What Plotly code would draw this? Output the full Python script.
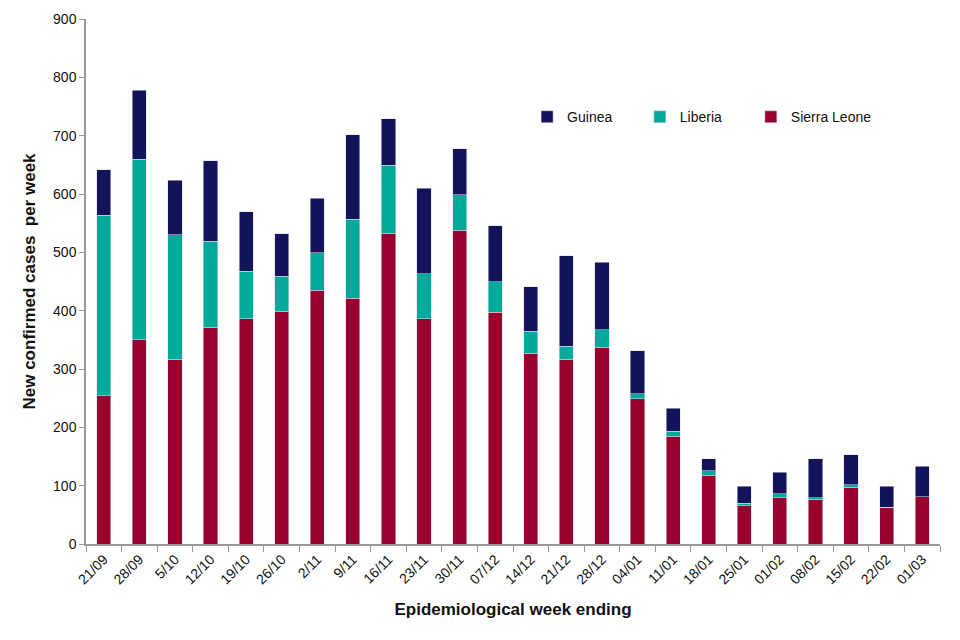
import plotly.graph_objects as go

weeks = ["21/09", "28/09", "5/10", "12/10", "19/10", "26/10", "2/11", "9/11", "16/11",
         "23/11", "30/11", "07/12", "14/12", "21/12", "28/12", "04/01", "11/01", "18/01",
         "25/01", "01/02", "08/02", "15/02", "22/02", "01/03"]
sierra_leone = [254, 350, 317, 372, 386, 399, 435, 421, 533, 386, 538, 397, 327, 317, 337,
                249, 185, 118, 66, 79, 77, 97, 63, 81]
liberia = [310, 310, 213, 147, 82, 60, 64, 136, 116, 77, 61, 53, 38, 22, 30,
           9, 8, 8, 4, 7, 2, 5, 0, 0]
guinea = [78, 118, 94, 138, 102, 73, 94, 145, 80, 147, 79, 96, 76, 155, 116,
          73, 40, 20, 29, 37, 67, 51, 36, 52]

font = "Liberation Sans, Arial, sans-serif"
fig = go.Figure()
series = [("Sierra Leone", sierra_leone, "#98002e", "legend3"),
          ("Liberia", liberia, "#00aa9a", "legend2"),
          ("Guinea", guinea, "#13135a", "legend")]
for name, vals, col, lg in series:
    fig.add_trace(go.Bar(x=weeks, y=vals, name=name, marker_color=col, legend=lg,
                         marker_line=dict(color="rgba(220,220,235,0.9)", width=0.6)))

def leg(xp):
    return dict(orientation="h", x=xp, y=0.813, xanchor="left", yanchor="middle",
                font=dict(size=14, family=font, color="#111111"), bgcolor="rgba(0,0,0,0)")

fig.update_layout(
    barmode="stack", bargap=0.6,
    width=960, height=640,
    margin=dict(l=78, r=28, t=11, b=104, autoexpand=False),
    plot_bgcolor="white", paper_bgcolor="white",
    font=dict(family=font, size=14, color="#111111"),
    legend=leg(0.5165), legend2=leg(0.6485), legend3=leg(0.7785),
    showlegend=True,
)
fig.update_xaxes(showline=True, linecolor="#999999", linewidth=1.5, ticks="outside",
                 tickson="boundaries", ticklen=6, tickcolor="#999999", tickangle=-45,
                 automargin=False,
                 tickfont=dict(size=14, family=font, color="#111111"),
                 title=dict(text="<b>Epidemiological week ending</b>", font=dict(size=17, family=font, color="#111111"), standoff=17))
fig.update_yaxes(range=[0, 900], dtick=100, showline=True, linecolor="#999999", linewidth=1.5,
                 ticks="outside", ticklen=5, tickcolor="#999999", showgrid=False, zeroline=False,
                 automargin=False,
                 tickfont=dict(size=14, family=font, color="#111111"),
                 title=dict(text="<b>New confirmed cases  per week</b>", font=dict(size=17, family=font, color="#111111"), standoff=13))

fig.write_html("out.html")
